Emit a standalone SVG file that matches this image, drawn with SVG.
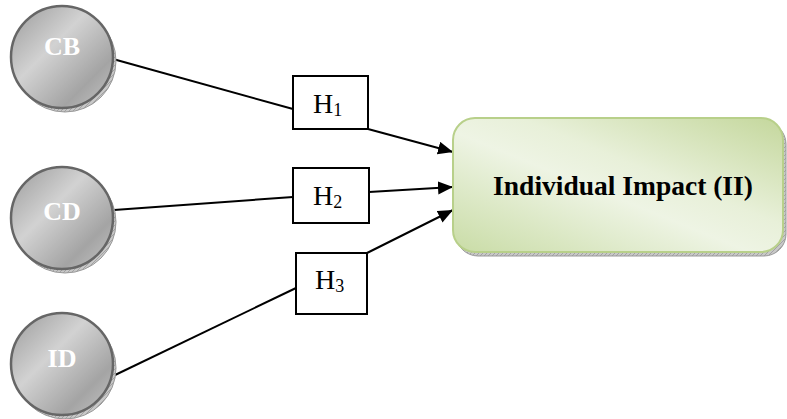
<svg xmlns="http://www.w3.org/2000/svg" width="787" height="419" viewBox="0 0 787 419">
<style>
.lnk{stroke:#000;stroke-width:2;fill:none}
.hbox{fill:#fff;stroke:#000;stroke-width:2}
.hlab{font-family:"Liberation Serif","Times New Roman",serif;font-size:28px;fill:#000}
.sub{font-size:18px}
.ctext{font-family:"Liberation Serif","Times New Roman",serif;font-size:26px;font-weight:bold;fill:#fff;text-anchor:middle}
.circ{fill:url(#gGrey);stroke:#666;stroke-width:2.5}
.cshadow{fill:url(#hatch);stroke:#999;stroke-width:1}
.title{font-family:"Liberation Serif","Times New Roman",serif;font-size:27.5px;font-weight:bold;fill:#000;text-anchor:middle}
</style>
<defs>
<linearGradient id="gGrey" x1="0" y1="0" x2="1" y2="1">
<stop offset="0" stop-color="#9a9a9a"/>
<stop offset="0.4" stop-color="#d2d2d2"/>
<stop offset="0.75" stop-color="#a4a4a4"/>
<stop offset="1" stop-color="#c6c6c6"/>
</linearGradient>
<linearGradient id="gGreen" x1="0" y1="1" x2="1" y2="0">
<stop offset="0" stop-color="#c9dca6"/>
<stop offset="0.45" stop-color="#eef4e4"/>
<stop offset="0.6" stop-color="#e8f0d9"/>
<stop offset="1" stop-color="#c4d79c"/>
</linearGradient>
<pattern id="hatch" width="4" height="4" patternUnits="userSpaceOnUse">
<rect width="4" height="4" fill="#c8c8c8"/>
<path d="M0,4 L4,0" stroke="#999" stroke-width="0.8"/>
</pattern>
<marker id="arr" markerUnits="userSpaceOnUse" markerWidth="16" markerHeight="14" refX="15" refY="6.5" orient="auto">
<path d="M0,0 L15,6.5 L0,13 z" fill="#000"/>
</marker>
</defs>

<g id="connectors">
<line class="lnk" x1="113" y1="59" x2="293" y2="109"/>
<line class="lnk" x1="368" y1="129" x2="453" y2="152" marker-end="url(#arr)"/>
<line class="lnk" x1="114" y1="210" x2="293" y2="197"/>
<line class="lnk" x1="369" y1="192" x2="453" y2="187" marker-end="url(#arr)"/>
<line class="lnk" x1="113" y1="376" x2="296" y2="288"/>
<line class="lnk" x1="367" y1="253" x2="453" y2="210" marker-end="url(#arr)"/>
</g>

<g id="CB">
<circle class="cshadow" cx="65" cy="61" r="51"/>
<circle class="circ" cx="62" cy="57" r="51"/>
<text class="ctext" x="62" y="55">CB</text>
</g>
<g id="CD">
<circle class="cshadow" cx="65" cy="222" r="51"/>
<circle class="circ" cx="62" cy="218" r="51"/>
<text class="ctext" x="62" y="220">CD</text>
</g>
<g id="ID">
<circle class="cshadow" cx="65" cy="368" r="51"/>
<circle class="circ" cx="62" cy="364" r="51"/>
<text class="ctext" x="62" y="367">ID</text>
</g>

<g id="H1">
<rect class="hbox" x="293" y="76" width="75" height="53"/>
<text class="hlab" x="313" y="113">H<tspan class="sub" dy="3">1</tspan></text>
</g>
<g id="H2">
<rect class="hbox" x="293" y="168" width="76" height="55"/>
<text class="hlab" x="313" y="205">H<tspan class="sub" dy="3">2</tspan></text>
</g>
<g id="H3">
<rect class="hbox" x="296" y="253" width="71" height="61"/>
<text class="hlab" x="315" y="289">H<tspan class="sub" dy="3">3</tspan></text>
</g>

<g id="II">
<rect x="456" y="122" width="330" height="134" rx="22" fill="url(#hatch)" stroke="#999" stroke-width="1"/>
<rect x="453" y="118" width="330" height="134" rx="22" fill="url(#gGreen)" stroke="#b8d08a" stroke-width="2"/>
<text class="title" x="623" y="195">Individual Impact (II)</text>
</g>
</svg>
